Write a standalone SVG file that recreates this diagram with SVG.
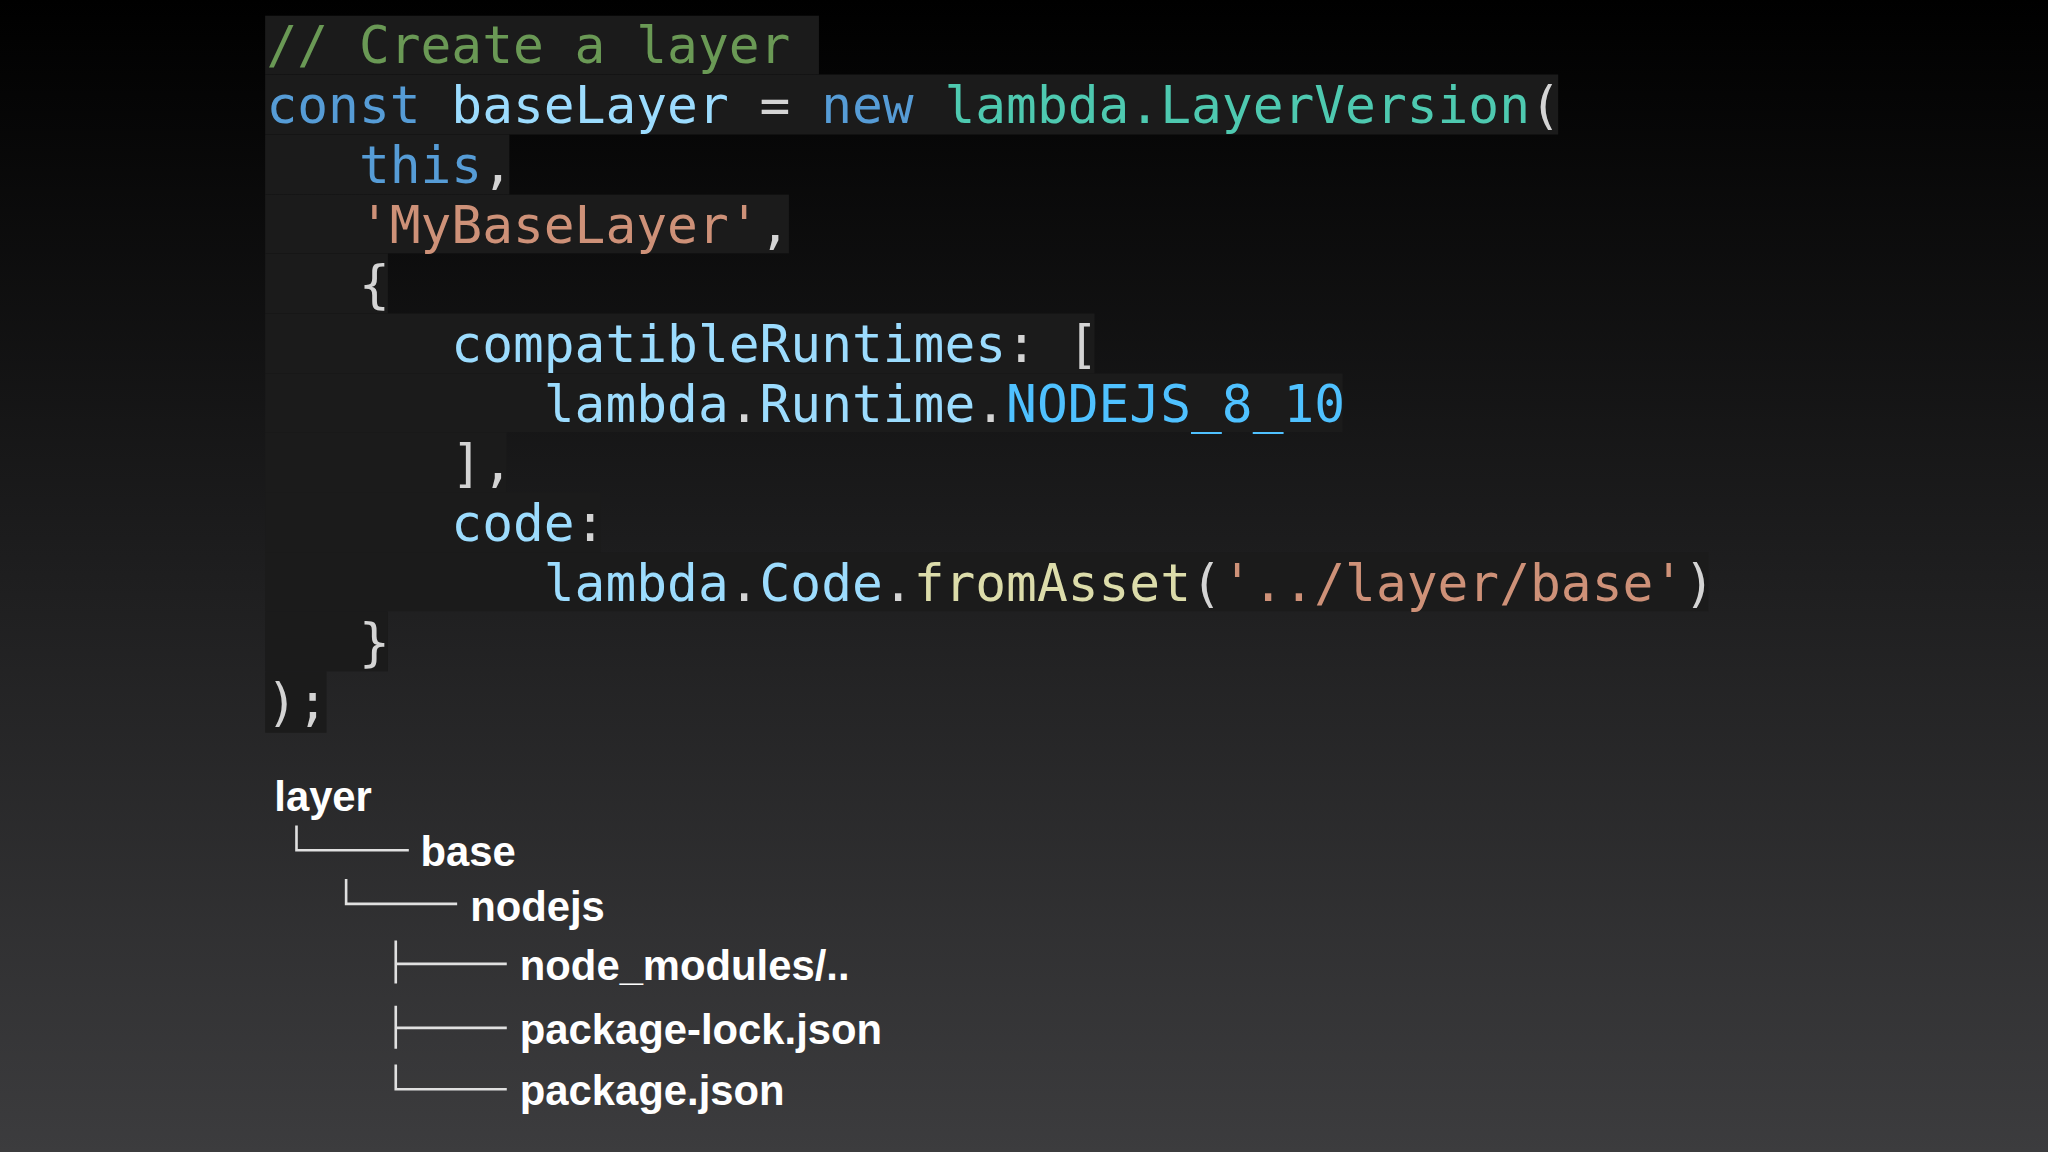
<svg xmlns="http://www.w3.org/2000/svg" width="2048" height="1152" viewBox="0 0 2048 1152">
<defs>
<linearGradient id="bg" x1="0" y1="0" x2="0" y2="1">
<stop offset="0" stop-color="#000"/><stop offset="1" stop-color="#3c3c3e"/>
</linearGradient>
<style>
.c{font-family:"DejaVu Sans Mono","Liberation Mono",monospace;font-size:39.2px;fill:#d4d4d4;white-space:pre}
.cm{fill:#6a9955}.kw{fill:#569cd6}.v{fill:#9cdcfe}.t{fill:#4ec9b0}.s{fill:#ce9178}.f{fill:#dcdcaa}.n{fill:#4fc1ff}
.hl{fill:#1b1b1b}
.tr{font-family:"Liberation Sans",Arial,sans-serif;font-weight:bold;font-size:32px;fill:#fff}
.ln{stroke:#e0e0e0;stroke-width:2;fill:none}
</style>
</defs>
<rect width="2048" height="1152" fill="url(#bg)"/>
<g transform="scale(1.30612)">
<g id="code">
<rect class="hl" x="203" y="12" width="424" height="45"/>
<rect class="hl" x="203" y="57" width="990" height="46"/>
<rect class="hl" x="203" y="103" width="187" height="46"/>
<rect class="hl" x="203" y="149" width="401" height="45"/>
<rect class="hl" x="203" y="194" width="94" height="46"/>
<rect class="hl" x="203" y="240" width="635" height="46"/>
<rect class="hl" x="203" y="286" width="825" height="45"/>
<rect class="hl" x="203" y="331" width="185" height="46"/>
<rect class="hl" x="203" y="377" width="257" height="46"/>
<rect class="hl" x="203" y="423" width="1105" height="45"/>
<rect class="hl" x="203" y="468" width="94" height="46"/>
<rect class="hl" x="203" y="514" width="47" height="47"/>
<text class="c" x="204" y="48"><tspan class="cm">// Create a layer</tspan></text>
<text class="c" x="204" y="94"><tspan class="kw">const</tspan> <tspan class="v">baseLayer</tspan> = <tspan class="kw">new</tspan> <tspan class="t">lambda.LayerVersion</tspan>(</text>
<text class="c" x="204" y="140">   <tspan class="kw">this</tspan>,</text>
<text class="c" x="204" y="186">   <tspan class="s">'MyBaseLayer'</tspan>,</text>
<text class="c" x="204" y="231">   {</text>
<text class="c" x="204" y="277">      <tspan class="v">compatibleRuntimes</tspan>: [</text>
<text class="c" x="204" y="323">         <tspan class="v">lambda</tspan>.<tspan class="v">Runtime</tspan>.<tspan class="n">NODEJS_8_10</tspan></text>
<text class="c" x="204" y="368">      ],</text>
<text class="c" x="204" y="414">      <tspan class="v">code</tspan>:</text>
<text class="c" x="204" y="460">         <tspan class="v">lambda</tspan>.<tspan class="v">Code</tspan>.<tspan class="f">fromAsset</tspan>(<tspan class="s">'../layer/base'</tspan>)</text>
<text class="c" x="204" y="505">   }</text>
<text class="c" x="204" y="551">);</text>
</g>
<g id="tree-lines">
<path class="ln" d="M227 632V651H313M265 673V692H350M303 720V753M303 738H388M303 770V803M303 787H388M303 815V834H388"/>
</g>
<g id="n-layer"><text class="tr" x="210" y="621">layer</text></g>
<g id="n-base"><text class="tr" x="322" y="663">base</text></g>
<g id="n-nodejs"><text class="tr" x="360" y="705">nodejs</text></g>
<g id="n-modules"><text class="tr" x="398" y="750">node_modules/..</text></g>
<g id="n-lock"><text class="tr" x="398" y="799">package-lock.json</text></g>
<g id="n-pkg"><text class="tr" x="398" y="846">package.json</text></g>
</g>
</svg>
